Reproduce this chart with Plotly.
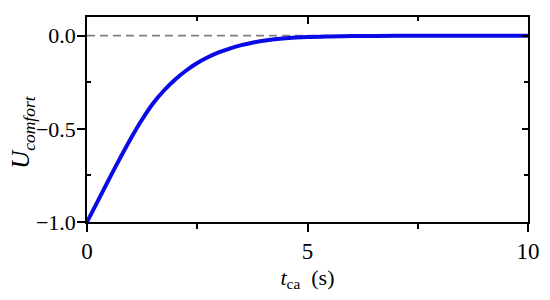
import plotly.graph_objects as go

# Data
t_ca = [0.0, 0.25, 0.5, 0.75, 1.0, 1.25, 1.5, 1.75, 2.0, 2.25, 2.5, 2.75, 3.0, 3.25,
        3.5, 3.75, 4.0, 4.25, 4.5, 5.0, 5.5, 6.0, 7.0, 8.0, 10.0]
u_comfort = [-1.0, -0.885, -0.770, -0.657, -0.549, -0.450, -0.363, -0.293, -0.235,
             -0.187, -0.147, -0.115, -0.089, -0.068, -0.051, -0.038, -0.028, -0.020,
             -0.014, -0.007, -0.004, -0.002, -0.001, 0.0, 0.0]
ref_x = [0, 10]
ref_y = [0, 0]
x_ticks = [0, 5, 10]
x_tick_text = ["0", "5", "10"]
y_ticks = [-1.0, -0.5, 0.0]
y_tick_text = ["\u22121.0", "\u22120.5", "0.0"]
y_title = "<i>U</i><sub><i>comfort</i></sub>"
x_title = "<i>t</i><sub>ca</sub>  (s)"

FONT = "Liberation Serif, Times New Roman, serif"

fig = go.Figure()
fig.add_trace(go.Scatter(x=ref_x, y=ref_y, mode="lines",
                         line=dict(color="#808080", width=1.6, dash="8px,5px"),
                         showlegend=False, hoverinfo="skip"))
fig.add_trace(go.Scatter(x=t_ca, y=u_comfort, mode="lines",
                         line=dict(color="#0a0ae6", width=4, shape="spline", smoothing=0.8),
                         showlegend=False))

axis_common = dict(showline=True, linecolor="black", linewidth=1.5,
                   showgrid=False, zeroline=False, automargin=False)

# the page body has an 8px default margin: the figure is shrunk by 8px and
# its own margins reduced so that the plot area lands where the reference has it
fig.update_layout(
    width=542, height=292,
    margin=dict(l=79, r=22, t=9, b=78),
    paper_bgcolor="white", plot_bgcolor="white",
    font=dict(family=FONT, size=23, color="black"),
    xaxis=dict(range=[0, 10], tickvals=x_ticks, ticktext=x_tick_text,
               ticks="outside", ticklen=8, tickwidth=1.5, tickcolor="black",
               minor=dict(tickvals=[2.5, 7.5], ticks="outside", ticklen=5,
                          tickwidth=1.5, tickcolor="black"),
               title=dict(text=x_title, standoff=6, font=dict(family=FONT, size=22)),
               tickfont=dict(family=FONT, size=23),
               **axis_common),
    yaxis=dict(range=[-1.0, 0.1], tickvals=y_ticks, ticktext=y_tick_text,
               ticks="outside", ticklen=8, tickwidth=1.5, tickcolor="black",
               ticklabelstandoff=-3,
               minor=dict(tickvals=[-0.75, -0.25], ticks="inside", ticklen=4,
                          tickwidth=1.5, tickcolor="black"),
               tickfont=dict(family=FONT, size=22),
               **axis_common),
    xaxis2=dict(range=[0, 10], overlaying="x", side="top", tickvals=x_ticks,
                showticklabels=False, ticks="inside", ticklen=7, tickwidth=1.5,
                tickcolor="black",
                minor=dict(tickvals=[2.5, 7.5], ticks="inside", ticklen=4,
                           tickwidth=1.5, tickcolor="black"),
                **axis_common),
    yaxis2=dict(range=[-1.0, 0.1], overlaying="y", side="right", tickvals=y_ticks,
                showticklabels=False, ticks="inside", ticklen=6, tickwidth=1.5,
                tickcolor="black",
                minor=dict(tickvals=[-0.75, -0.25], ticks="inside", ticklen=4,
                           tickwidth=1.5, tickcolor="black"),
                **axis_common),
    annotations=[dict(text=y_title, xref="paper", yref="paper",
                      x=-0.145, y=0.44, xanchor="center", yanchor="middle",
                      textangle=-90, showarrow=False,
                      font=dict(family=FONT, size=25, color="black"))],
)
# invisible trace to anchor the secondary (mirror) axes
fig.add_trace(go.Scatter(x=[None], y=[None], xaxis="x2", yaxis="y2",
                         showlegend=False, hoverinfo="skip"))

fig.write_html("out.html")
